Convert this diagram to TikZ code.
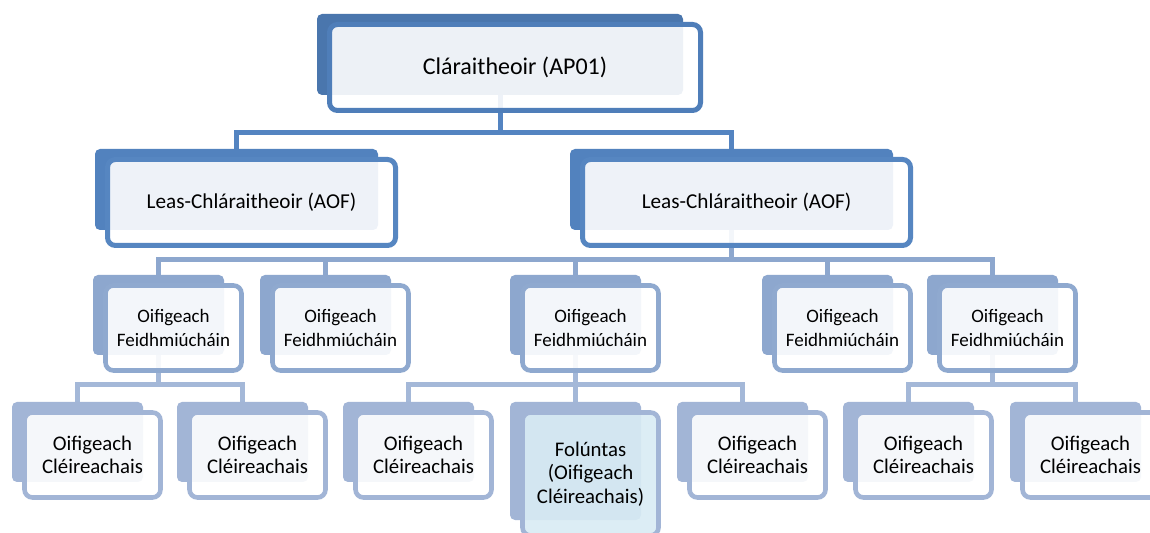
\documentclass[tikz,border=0pt]{standalone}
\usepackage{fontspec}
\setmainfont{Carlito}
\pgfdeclarelayer{bgfill}
\pgfdeclarelayer{background}
\pgfsetlayers{bgfill,background,main}
\definecolor{backA}{RGB}{74,118,173}
\definecolor{lineA}{RGB}{79,126,185}
\definecolor{backB}{RGB}{82,130,190}
\definecolor{lineB}{RGB}{86,134,193}
\definecolor{backC}{RGB}{141,167,206}
\definecolor{lineC}{RGB}{143,169,207}
\definecolor{backD}{RGB}{162,181,214}
\definecolor{lineD}{RGB}{162,181,214}
\definecolor{connA}{RGB}{84,132,193}
\definecolor{connB}{RGB}{141,167,206}
\definecolor{connC}{RGB}{164,184,216}
\definecolor{vacant}{RGB}{217,236,244}
\tikzset{
  backbox/.style={rectangle, rounded corners=2.5pt, inner sep=0pt},
  frontbox/.style={rectangle, rounded corners=4pt, inner sep=0pt, line width=2.5pt,
     fill=white, fill opacity=0.9, text opacity=1, text=black, align=center},
  backA/.style={backbox, fill=backA},
  backB/.style={backbox, fill=backB},
  backC/.style={backbox, fill=backC},
  backD/.style={backbox, fill=backD},
  backV/.style={backbox, fill=backD},
  frontA/.style={frontbox, draw=lineA, font=\fontsize{12}{14.6}\selectfont},
  frontB/.style={frontbox, draw=lineB, font=\fontsize{10.6}{13}\selectfont},
  frontC/.style={frontbox, draw=lineC, line width=2.3pt, font=\fontsize{9.5}{11.7}\selectfont},
  frontD/.style={frontbox, draw=lineD, line width=2.3pt, font=\fontsize{10.4}{11.7}\selectfont},
  frontV/.style={frontbox, draw=lineD, line width=2.3pt, fill=vacant, font=\fontsize{10.4}{11.7}\selectfont},
  conn/.style={line width=2.5pt},
}
\newcommand\orgbox[7]{%
  \node[back#2, minimum width={(#5)*0.5pt}, minimum height={(#6)*0.5pt}] (#1b) at (#3,#4) {};
  \node[front#2, minimum width={(#5+5)*0.5pt}, minimum height={(#6+5)*0.5pt}] (#1) at ({#3+15},{#4+13}) {#7};
}
\begin{document}
\begin{tikzpicture}[x=0.5pt,y=-0.5pt]
\useasboundingbox (0,0) rectangle (1150,533);
\begin{pgfonlayer}{bgfill}
\fill[white] (0,0) rectangle (1150,533);
\end{pgfonlayer}
% level 1
\orgbox{top}{A}{500}{54.5}{366}{81}{Cláraitheoir (AP01)}
% level 2
\orgbox{la}{B}{236.5}{189.5}{283}{81}{Leas-Chláraitheoir (AOF)}
\orgbox{lb}{B}{731.5}{189.5}{323}{81}{Leas-Chláraitheoir (AOF)}
% level 3
\orgbox{fa}{C}{158.5}{315}{131}{80}{Oifigeach\\Feidhmiúcháin}
\orgbox{fb}{C}{325.5}{315}{131}{80}{Oifigeach\\Feidhmiúcháin}
\orgbox{fc}{C}{575.5}{315}{131}{80}{Oifigeach\\Feidhmiúcháin}
\orgbox{fd}{C}{827.5}{315}{131}{80}{Oifigeach\\Feidhmiúcháin}
\orgbox{fe}{C}{992.5}{315}{131}{80}{Oifigeach\\Feidhmiúcháin}
% level 4
\orgbox{ca}{D}{77.5}{442}{131}{80}{Oifigeach\\Cléireachais}
\orgbox{cb}{D}{242.5}{442}{131}{80}{Oifigeach\\Cléireachais}
\orgbox{cc}{D}{408.5}{442}{131}{80}{Oifigeach\\Cléireachais}
\orgbox{cd}{V}{575.5}{461}{131}{118}{Folúntas\\(Oifigeach\\Cléireachais)}
\orgbox{ce}{D}{742.5}{442}{131}{80}{Oifigeach\\Cléireachais}
\orgbox{cf}{D}{908.5}{442}{131}{80}{Oifigeach\\Cléireachais}
\orgbox{cg}{D}{1075.5}{442}{131}{80}{Oifigeach\\Cléireachais}
% connectors
\coordinate (bus1) at (0,133);
\coordinate (bus2) at (0,260);
\coordinate (bus3) at (0,385);
\begin{pgfonlayer}{background}
\foreach \c in {la,lb}
  \draw[conn, draw=connA] (topb.south) -- (topb.south |- bus1) -| (\c b.north);
\foreach \c in {fa,fb,fc,fd,fe}
  \draw[conn, draw=connB] (lbb.south) -- (lbb.south |- bus2) -| (\c b.north);
\foreach \c in {ca,cb}
  \draw[conn, draw=connC] (fab.south) -- (fab.south |- bus3) -| (\c b.north);
\foreach \c in {cc,cd,ce}
  \draw[conn, draw=connC] (fcb.south) -- (fcb.south |- bus3) -| (\c b.north);
\foreach \c in {cf,cg}
  \draw[conn, draw=connC] (feb.south) -- (feb.south |- bus3) -| (\c b.north);
\end{pgfonlayer}
\end{tikzpicture}
\end{document}
